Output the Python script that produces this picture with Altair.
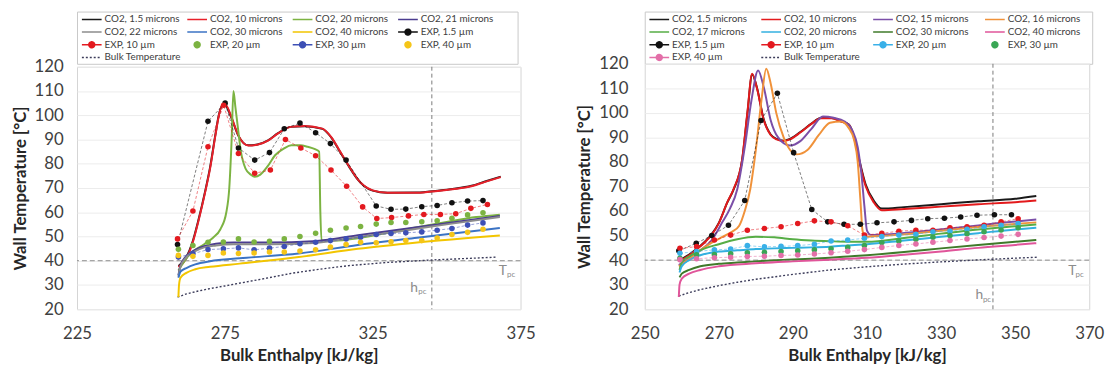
import altair as alt
import pandas as pd

FONT = "Lato"

# ======================= LEFT PANEL DATA =======================
L_SERIES = ["CO2, 1.5 microns", "CO2, 10 microns", "CO2, 20 microns", "CO2, 21 microns",
            "CO2, 22 microns", "CO2, 30 microns", "CO2, 40 microns", "EXP, 1.5 µm",
            "EXP, 10 µm", "EXP, 20 µm", "EXP, 30 µm", "EXP, 40 µm", "Bulk Temperature"]
L_COLORS = ["#1a1a1a", "#e8202a", "#7cb342", "#4b3c8f", "#8c8c8c", "#3b73c4", "#f2c500",
            "#111111", "#e3191f", "#7cb342", "#3d4fb5", "#f5c518", "#3c3c5a"]
L_SYMBOLS = ["line"] * 7 + ["dotline", "dotline", "dot", "dotline", "dot", "dash"]

L_RED_H = [259.3, 262, 264, 266, 268.4, 270, 271.8, 273, 274.3, 275.5, 277, 279.6, 282.9, 286, 289.6,
           293, 297.2, 302, 308, 311, 314, 317, 319.7, 322, 325, 330, 340, 347, 352, 358.4, 363, 368.3]
L_CO2_10_T = [37.4, 41, 47, 56, 68.6, 78, 91.6, 100, 104.5, 104, 100, 91.6, 87.5, 87.8, 89.5,
              92.5, 95.2, 95.6, 94.5, 91, 85, 79, 74, 71, 69, 68, 68, 68.8, 69.5, 70.7, 72.5, 74.5]
L_CO2_1p5_T = [37.8, 41.5, 47.5, 56.5, 69, 78.5, 92, 100.3, 104.2, 103.6, 99.6, 91.5, 87.6, 87.9, 89.6,
               92.6, 95.2, 95.5, 94.4, 90.8, 84.8, 78.8, 73.9, 70.9, 68.9, 68, 68.1, 68.9, 69.6, 70.9, 72.7, 74.7]
L_CO2_20_H = [259.3, 262, 265, 268, 271, 273.5, 275.5, 276.5, 277.3, 277.9, 278.6, 279.4, 280.3, 282,
              283.8, 285.1, 287, 289.5, 292, 295, 297.5, 300.5, 303, 305.5, 306.9, 307.3, 307.7, 312,
              320, 330, 340, 350, 360, 368]
L_CO2_20_T = [36, 41, 44.5, 46.8, 49.5, 53, 60, 70, 90, 110, 103, 95, 86, 78, 75.5, 74.6, 75.5, 79,
              83.5, 86.3, 87.6, 87.6, 87, 86, 85, 60, 48.3, 48.3, 49.3, 51.5, 53.8, 56, 58, 59]
L_LOW_H = [259.3, 260, 262, 265, 268, 272, 278, 290, 305, 320, 335, 350, 368]
L_CO2_21_T = [34, 38, 42, 44.5, 46, 47, 47.5, 47.5, 48, 50.5, 53, 55.5, 58.5]
L_CO2_22_T = [33.5, 37.5, 41.5, 44, 45.5, 46.3, 46.8, 46.8, 47.3, 49.8, 52.3, 55, 58]
L_CO2_30_H = [259.3, 260, 262, 265, 270, 280, 300, 320, 340, 368]
L_CO2_30_T = [33, 35.5, 37, 38.5, 39.8, 41, 43, 46.5, 49.5, 53.5]
L_CO2_40_H = [259.3, 259.5, 260, 262, 265, 270, 280, 300, 320, 340, 368]
L_CO2_40_T = [25, 30, 33, 35, 36.5, 37.5, 38.8, 41.5, 44.9, 47.5, 50.4]

L_EXP_1p5_H = [259, 269.3, 275.1, 279.6, 285.1, 290.1, 295.1, 300.4, 305.7, 310.7, 316, 326.2,
               331.2, 336.2, 341.6, 346.8, 351.8, 357.1, 362.3]
L_EXP_1p5_T = [46.7, 97.5, 105, 86.5, 81.5, 84.6, 94.4, 96.8, 92.8, 88.3, 81.5, 62.6, 61.2, 61.3,
               62.3, 62.8, 63.9, 64.6, 64.8]
L_EXP_10_H = [259, 264.2, 269.3, 274.6, 279.6, 285.1, 290.4, 295.5, 300.7, 305.7, 310.9, 316.2,
              321.6, 326.4, 331.4, 337.1, 342.3, 347.9, 353.1, 358.2, 363.8]
L_EXP_10_T = [49, 60.5, 87, 104.1, 84.2, 76.1, 77.4, 90, 86.5, 83.3, 77.4, 70.7, 62.2, 57.4, 57.8,
              58.5, 59.1, 59.1, 59.4, 61.6, 63.2]
L_EXP_H = [259.3, 264.2, 269.3, 274.5, 279.6, 284.9, 290.1, 295.1, 300.4, 305.7, 310.7, 316,
           320.9, 326.2, 331.2, 336.2, 341.6, 346.8, 351.8, 357.1, 362.3]
L_EXP_20_T = [44.7, 46.3, 47.6, 47.7, 49, 47.7, 48, 49, 50, 51.3, 52.6, 53.5, 54.1, 55.1, 55.8,
              55.8, 56.1, 56.5, 57.5, 58.9, 59.8]
L_EXP_30_T = [41.5, 42.9, 44.6, 44.9, 45.3, 44.5, 45.2, 45.9, 47, 47.6, 48.3, 49, 49.7, 50.8,
              51.2, 51.5, 51.9, 52.6, 53.3, 54.7, 55.6]
L_EXP_40_T = [42.2, 41.8, 42.2, 43.2, 43, 43.2, 43.6, 43.6, 44, 44.5, 45.6, 46.7, 47.6, 47.4,
              47.8, 48.3, 48.3, 49.4, 50.8, 51.7, 53]
L_BULK_H = [259, 262, 266, 270, 275, 282, 290, 298, 307, 317, 330, 345, 360, 367]
L_BULK_T = [25, 26.3, 27.5, 28.5, 29.6, 31.2, 33, 34.9, 36.5, 38, 39.3, 40.3, 41.1, 41.5]
L_EXP_LINED = ["EXP, 1.5 µm", "EXP, 10 µm", "EXP, 30 µm"]
L_XDOM = [225, 375]
L_XTICKS = [225, 275, 325, 375]
L_HPC = 345
L_LABEL_H = [369, 371.8, 339, 341.8]
L_LABEL_T = [35.9, 34.1, 28.9, 27.2]

# ======================= RIGHT PANEL DATA =======================
R_SERIES = ["CO2, 1.5 microns", "CO2, 10 microns", "CO2, 15 microns", "CO2, 16 microns",
            "CO2, 17 microns", "CO2, 20 microns", "CO2, 30 microns", "CO2, 40 microns",
            "EXP, 1.5 µm", "EXP, 10 µm", "EXP, 20 µm", "EXP, 30 µm", "EXP, 40 µm",
            "Bulk Temperature"]
R_COLORS = ["#1a1a1a", "#e31a1c", "#7b4fa8", "#f0923a", "#56ad45", "#33b0e0", "#3f7a2a",
            "#e0559a", "#111111", "#e3191f", "#39b0e8", "#3aa655", "#e36fa8", "#3c3c5a"]
R_SYMBOLS = ["line"] * 8 + ["dotline", "dotline", "dotline", "dot", "dotline", "dash"]

R_RED_H = [259.2, 262, 264.4, 266, 268, 270, 272.3, 274, 276.3, 277.7, 279, 280.3, 282.1, 284,
           285.6, 287.5, 289.2, 292, 295, 297.5, 300.5, 303, 305.1, 306.5, 307.8, 309.6, 311.8,
           314, 320, 330, 340, 350, 355.7]
R_CO2_10_T = [39.5, 42, 44.8, 47, 50.2, 55, 63.6, 69, 81.1, 100, 116, 110, 97.2, 91, 89.2, 88.5,
              89.2, 92, 95.5, 97.8, 97.8, 96.5, 95.2, 90, 81.1, 70.3, 63.6, 60.3, 60.8, 61.8, 62.8,
              63.6, 64.3]
R_CO2_1p5_T = [39.8, 42.3, 45, 47.2, 50.4, 55.2, 63.5, 68.8, 80.8, 99.5, 115.6, 110.2, 97.5, 91.2,
               89.4, 88.7, 89.4, 92.2, 95.6, 97.9, 97.9, 96.6, 95.3, 90.3, 81.6, 71, 64.3, 61,
               61.6, 62.8, 64, 65, 66.1]
R_CO2_15_H = [259.2, 262, 265, 268, 271, 273, 275, 277, 278.8, 280.6, 282.2, 284, 286, 289.2, 292,
              295, 298.1, 301, 304, 306, 307.5, 308.5, 309.3, 310, 311, 315, 325, 335, 345, 355.7]
R_CO2_15_T = [38, 41, 44, 48, 55.6, 61, 69, 86, 105, 117.3, 110, 97, 90, 86.7, 88.5, 93.5, 98.5,
              98, 96.5, 93, 86, 75, 62, 52, 50.3, 50.5, 51.8, 53.3, 55, 56.6]
R_CO2_16_H = [259.2, 262, 265, 268, 271, 273.5, 275.5, 277, 278.5, 280, 281.5, 282.8, 284, 285.5,
              287.5, 291, 294, 297, 300, 303, 305, 306.5, 307.5, 308.2, 308.8, 309.5, 312, 320,
              330, 340, 355.7]
R_CO2_16_T = [37.5, 40.5, 44, 47, 49.5, 51.5, 54, 60, 69, 85, 105, 118, 112, 100, 90, 83.1, 85, 91,
              96, 96.5, 94, 89, 80, 65, 52, 49.5, 49.7, 50.5, 52, 53.5, 55.4]
R_LOW_H = [259.4, 260, 262, 265, 270, 275, 280, 285, 290, 295, 300, 305, 310, 320, 330, 340, 350, 355.7]
R_CO2_17_T = [36, 39, 41.5, 44, 46.5, 48.5, 49.5, 49.3, 48.5, 48, 47.7, 47.5, 47.5, 49, 50.8,
              52.5, 53.8, 54.5]
R_CO2_20_T = [35, 37.5, 40, 42, 43.5, 44, 44.5, 44.8, 45, 45.2, 45.5, 46, 46.5, 48, 49.5, 51,
              52.5, 53.2]
R_CO2_30_T = [33, 34.5, 36, 37.5, 38.5, 39, 39.5, 40, 40.3, 40.6, 41, 41.5, 42, 43.3, 44.8, 46.2,
              47.5, 48.2]
R_CO2_40_H = [259.2, 259.4, 260, 262, 265, 270, 280, 290, 300, 310, 320, 330, 340, 350, 355.7]
R_CO2_40_T = [25, 30, 32.5, 34.5, 36, 37.5, 38.7, 39.5, 40.2, 41, 42.2, 43.5, 45, 46.2, 46.9]

R_EXP_1p5_H = [259.2, 263.9, 268.1, 272.6, 277, 281.4, 285.8, 290.2, 295.1, 299.4, 303.8, 308.2,
               312.7, 317.3, 322, 326.4, 330.9, 335.3, 339.7, 344.4, 349]
R_EXP_1p5_T = [43.8, 46.9, 50, 54.2, 64.3, 96.9, 108, 83.8, 60.6, 55.6, 54.6, 54.6, 55.2, 55.6,
               56.2, 56.9, 57.1, 57.6, 58.3, 58.5, 58.5]
R_EXP_H = [259.5, 264, 268.8, 273.2, 277.7, 282.3, 286.8, 291.3, 295.8, 300.3, 304.8, 309.3, 314,
           318.6, 323.2, 327.8, 332.4, 337, 341.6, 346.2, 350.8]
R_EXP_10_T = [44.8, 45.5, 48.2, 50.2, 52.2, 52.9, 53.6, 54.9, 56, 55.6, 54, 50.2, 50.9, 51.8,
              52.2, 52.2, 53.2, 53.6, 54.2, 55.6, 56.9]
R_EXP_20_T = [42.8, 43.5, 44.2, 44.5, 45.9, 45.4, 45.6, 45.9, 46.5, 47.8, 48.2, 48.9, 49.6, 50.2,
              50.5, 51.6, 51.9, 52.6, 53.6, 54.2, 54.9]
R_EXP_30_T = [40.8, 42.2, 42.3, 42.6, 43, 43.2, 43.5, 43.8, 44.2, 44.6, 45.2, 46, 47.2, 47.8,
              48.5, 49.3, 50, 50.8, 51.6, 52.3, 53.2]
R_EXP_40_T = [40.2, 40.6, 41, 41.2, 41.5, 41.6, 41.9, 42.1, 42.5, 43, 43.6, 44.3, 45.2, 46, 46.6,
              47.3, 48, 48.6, 49.2, 49.8, 50.5]
R_BULK_H = [259.2, 262, 265, 270, 275, 280, 290, 300, 310, 320, 330, 340, 350, 356]
R_BULK_T = [25.4, 26.8, 28, 29.6, 31, 32.2, 34.2, 36, 37.3, 38.4, 39.3, 40.1, 40.8, 41.2]
R_EXP_LINED = ["EXP, 1.5 µm", "EXP, 10 µm", "EXP, 20 µm", "EXP, 40 µm"]
R_XDOM = [250, 370]
R_XTICKS = [250, 270, 290, 310, 330, 350, 370]
R_HPC = 344
R_LABEL_H = [365.4, 367.4, 340.3, 342.4]
R_LABEL_T = [35.6, 34.0, 25.9, 23.9]

TPC = 40
LABEL_TEXT = ["T", "pc", "h", "pc"]
LABEL_SIZE = [14, 8, 14, 8]
LEGEND_COLS = 4

SYMBOL_PATHS = {
    "line": "M-2,0H2",
    "dash": "M-2,0H2",
    "dotline": "M-2,0H2M-0.6,0A0.6,0.6,0,1,0,0.6,0A0.6,0.6,0,1,0,-0.6,0",
    "dot": "M-0.6,0A0.6,0.6,0,1,0,0.6,0A0.6,0.6,0,1,0,-0.6,0",
}
SYMBOL_DASH = {"line": [1, 0], "dash": [2, 2], "dotline": [1, 0], "dot": [1, 0]}


def frame(h, t, name):
    return pd.DataFrame({"h": h, "T": t, "series": name})


def legend_box(series, colors, symbols, width, height, xdom):
    df = pd.DataFrame({"series": series,
                       "col": [i % LEGEND_COLS for i in range(len(series))],
                       "row": [i // LEGEND_COLS for i in range(len(series))]})
    lx = alt.X("col:Q", scale=alt.Scale(domain=xdom, nice=False, zero=False), axis=None)
    ly = alt.Y("row:Q", scale=alt.Scale(domain=[-0.62, 3.5], nice=False, zero=False,
                                        reverse=True), axis=None)
    sym = alt.Chart(df).mark_point(filled=True, size=100, strokeWidth=1.5, opacity=1).encode(
        x=lx, y=ly,
        shape=alt.Shape("series:N", scale=alt.Scale(
            domain=series, range=[SYMBOL_PATHS[s] for s in symbols]), legend=None),
        fill=alt.Fill("series:N", scale=alt.Scale(domain=series, range=colors), legend=None),
        stroke=alt.Stroke("series:N", scale=alt.Scale(domain=series, range=colors), legend=None),
        strokeDash=alt.StrokeDash("series:N", scale=alt.Scale(
            domain=series, range=[SYMBOL_DASH[s] for s in symbols]), legend=None),
    )
    txt = alt.Chart(df).mark_text(align="left", baseline="middle", dx=13, font=FONT,
                                  fontSize=10, color="#404040").encode(
        x=lx, y=ly, text="series:N")
    return alt.layer(sym, txt).properties(
        width=width, height=height, view=alt.ViewBackground(stroke="#c8c8c8"))


def panel(curves, exps, exp_lined, bulk, series, colors, xdom, xticks, hpc,
          lab_h, lab_t, width, height, ylab_pad):
    xenc = alt.X("h:Q", scale=alt.Scale(domain=xdom, nice=False, zero=False),
                 axis=alt.Axis(values=xticks, title="Bulk Enthalpy [kJ/kg]", grid=False,
                               domain=False, ticks=False, tickSize=0, labelPadding=17,
                               titlePadding=6, labelFont=FONT, labelFontSize=17,
                               labelColor="#404040", titleFont=FONT, titleFontSize=17,
                               titleFontWeight="bold", titleColor="#262626",
                               labelFlush=False))
    yenc = alt.Y("T:Q", scale=alt.Scale(domain=[20, 120], nice=False, zero=False),
                 axis=alt.Axis(values=list(range(20, 121, 10)), title="Wall Temperature [°C]",
                               grid=True, gridColor="#ececec", domain=False, ticks=False,
                               tickSize=0, labelPadding=ylab_pad, titlePadding=5,
                               labelFont=FONT, labelFontSize=17, labelColor="#404040",
                               titleFont=FONT, titleFontSize=17, titleFontWeight="bold",
                               titleColor="#262626", labelFlush=False))
    cenc = alt.Color("series:N", scale=alt.Scale(domain=series, range=colors), legend=None)

    curve_df = pd.concat([frame(h, t, n) for n, h, t in curves], ignore_index=True)
    exp_df = pd.concat([frame(h, t, n) for n, h, t in exps], ignore_index=True)
    bulk_df = frame(bulk[0], bulk[1], "Bulk Temperature")
    lined_df = exp_df[exp_df["series"].isin(exp_lined)]

    tpc = alt.Chart(pd.DataFrame({"T": [TPC]})).mark_rule(
        color="#8a8a8a", strokeDash=[5, 3], strokeWidth=1).encode(y=yenc)
    hpc_rule = alt.Chart(pd.DataFrame({"h": [hpc]})).mark_rule(
        color="#7a7a7a", strokeDash=[4, 3], strokeWidth=1).encode(x=xenc)
    bulk_line = alt.Chart(bulk_df).mark_line(strokeDash=[2, 2], strokeWidth=1.4).encode(
        x=xenc, y=yenc, color=cenc)
    co2 = alt.Chart(curve_df).mark_line(strokeWidth=2, interpolate="monotone").encode(
        x=xenc, y=yenc, color=cenc, detail="series:N")
    exp_lines = alt.Chart(lined_df).mark_line(strokeWidth=1, strokeDash=[3, 2], opacity=0.55).encode(
        x=xenc, y=yenc, color=cenc, detail="series:N")
    exp_pts = alt.Chart(exp_df).mark_circle(size=32, opacity=1).encode(
        x=xenc, y=yenc, color=cenc)

    lab_df = pd.DataFrame({"h": lab_h, "T": lab_t, "txt": LABEL_TEXT, "fs": LABEL_SIZE})
    labels = alt.Chart(lab_df).mark_text(font=FONT, color="#8c8c8c").encode(
        x=xenc, y=yenc, text="txt:N",
        size=alt.Size("fs:Q", scale=None, legend=None))

    return alt.layer(tpc, hpc_rule, bulk_line, co2, exp_lines, exp_pts, labels).properties(
        width=width, height=height, view=alt.ViewBackground(stroke="#d4d4d4"))


RES = dict(x="independent", y="independent", color="independent", fill="independent",
           stroke="independent", shape="independent", strokeDash="independent",
           size="independent")

left_plot = panel(
    curves=[("CO2, 1.5 microns", L_RED_H, L_CO2_1p5_T), ("CO2, 10 microns", L_RED_H, L_CO2_10_T),
            ("CO2, 20 microns", L_CO2_20_H, L_CO2_20_T), ("CO2, 21 microns", L_LOW_H, L_CO2_21_T),
            ("CO2, 22 microns", L_LOW_H, L_CO2_22_T), ("CO2, 30 microns", L_CO2_30_H, L_CO2_30_T),
            ("CO2, 40 microns", L_CO2_40_H, L_CO2_40_T)],
    exps=[("EXP, 1.5 µm", L_EXP_1p5_H, L_EXP_1p5_T), ("EXP, 10 µm", L_EXP_10_H, L_EXP_10_T),
          ("EXP, 20 µm", L_EXP_H, L_EXP_20_T), ("EXP, 30 µm", L_EXP_H, L_EXP_30_T),
          ("EXP, 40 µm", L_EXP_H, L_EXP_40_T)],
    exp_lined=L_EXP_LINED, bulk=(L_BULK_H, L_BULK_T), series=L_SERIES, colors=L_COLORS,
    xdom=L_XDOM, xticks=L_XTICKS, hpc=L_HPC, lab_h=L_LABEL_H,
    lab_t=L_LABEL_T, width=450, height=246, ylab_pad=14)
left_leg = legend_box(L_SERIES, L_COLORS, L_SYMBOLS, 447, 53, [-0.14, 4.04])
left = alt.vconcat(left_leg, left_plot, spacing=3, bounds="flush").resolve_scale(**RES)

right_plot = panel(
    curves=[("CO2, 1.5 microns", R_RED_H, R_CO2_1p5_T), ("CO2, 10 microns", R_RED_H, R_CO2_10_T),
            ("CO2, 15 microns", R_CO2_15_H, R_CO2_15_T), ("CO2, 16 microns", R_CO2_16_H, R_CO2_16_T),
            ("CO2, 17 microns", R_LOW_H, R_CO2_17_T), ("CO2, 20 microns", R_LOW_H, R_CO2_20_T),
            ("CO2, 30 microns", R_LOW_H, R_CO2_30_T), ("CO2, 40 microns", R_CO2_40_H, R_CO2_40_T)],
    exps=[("EXP, 1.5 µm", R_EXP_1p5_H, R_EXP_1p5_T), ("EXP, 10 µm", R_EXP_H, R_EXP_10_T),
          ("EXP, 20 µm", R_EXP_H, R_EXP_20_T), ("EXP, 30 µm", R_EXP_H, R_EXP_30_T),
          ("EXP, 40 µm", R_EXP_H, R_EXP_40_T)],
    exp_lined=R_EXP_LINED, bulk=(R_BULK_H, R_BULK_T), series=R_SERIES, colors=R_COLORS,
    xdom=R_XDOM, xticks=R_XTICKS, hpc=R_HPC, lab_h=R_LABEL_H,
    lab_t=R_LABEL_T, width=451, height=249, ylab_pad=17)
right_leg = legend_box(R_SERIES, R_COLORS, R_SYMBOLS, 454, 53, [-0.13, 3.87])
right = alt.vconcat(right_leg, right_plot, spacing=0, bounds="flush").resolve_scale(**RES)

chart = alt.hconcat(left, right, spacing=39).resolve_scale(**RES).properties(
    padding={"left": 2, "top": 0, "right": 2, "bottom": 0}, background="white"
)

chart.save("out.html", embed_options={"renderer": "svg", "actions": False})
